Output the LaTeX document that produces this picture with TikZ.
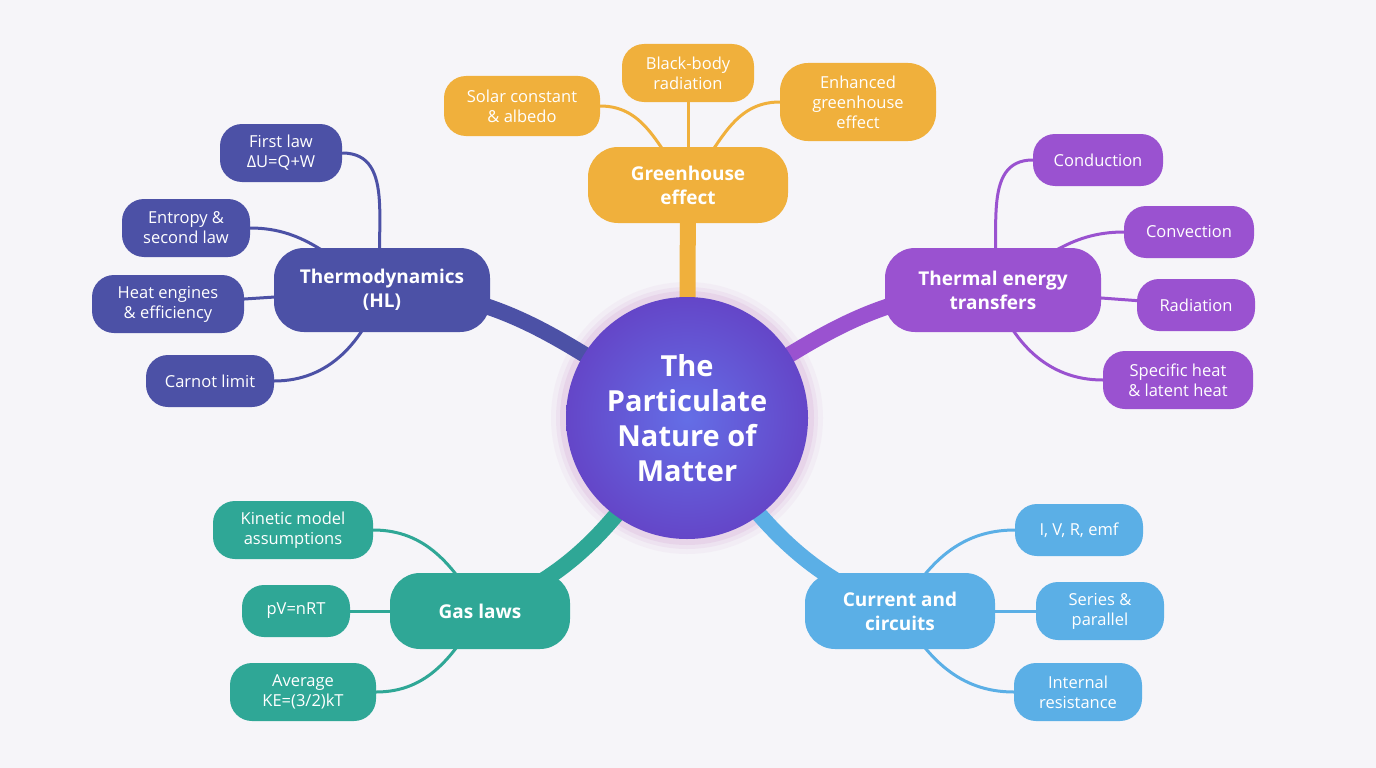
\documentclass[tikz,border=0pt]{standalone}
\usepackage{fontspec}
\setmainfont{Open Sans}
\pgfdeclarelayer{bg}
\pgfsetlayers{bg,main}
\begin{document}
\begin{tikzpicture}[x=1pt,y=-1pt,
 box/.style={rounded corners=22pt,text=white,align=center,font=\fontsize{16.5}{20}\selectfont,inner sep=0pt},
 hub/.style={box,font=\fontsize{19}{24}\selectfont\bfseries,rounded corners=30pt},
 sub/.style={line width=3pt},
 main/.style={line width=16pt}]
\definecolor{bgc}{HTML}{F6F5F9}
\definecolor{org}{HTML}{F0B03C}
\definecolor{ind}{HTML}{4C51A6}
\definecolor{pur}{HTML}{9A52D0}
\definecolor{tea}{HTML}{2FA796}
\definecolor{lbl}{HTML}{5BAFE6}
\begin{pgfonlayer}{bg}
\fill[bgc] (0,0) rectangle (1376,768);
\end{pgfonlayer}
\useasboundingbox (0,0) rectangle (1376,768);
% circle
\begin{pgfonlayer}{bg}
\foreach \r/\o in {136/0.08,131/0.12,127/0.18}{\fill[violet!40,opacity=\o] (687,418) circle (\r);}
\end{pgfonlayer}
\shade[inner color={rgb,255:red,100;green,110;blue,230},outer color={rgb,255:red,100;green,70;blue,200}] (687,418) circle (121);
\node[circle,minimum size=242pt,text=white,align=center,font=\fontsize{29}{35}\selectfont\bfseries] (c) at (687,418) {The\\Particulate\\Nature of\\Matter};
% hubs
\node[hub,fill=org,minimum width=200pt,minimum height=76pt] (g) at (688,185) {Greenhouse\\effect};
\node[hub,fill=ind,minimum width=216pt,minimum height=84pt] (t) at (382,290) {Thermodynamics\\(HL)};
\node[hub,fill=pur,minimum width=216pt,minimum height=84pt] (e) at (993,290) {Thermal energy\\transfers};
\node[hub,fill=tea,minimum width=180pt,minimum height=76pt] (gl) at (480,611) {Gas laws};
\node[hub,fill=lbl,minimum width=190pt,minimum height=76pt] (cc) at (900,611) {Current and\\circuits};
% subs
\node[box,fill=org,minimum width=156pt,minimum height=60pt] (g1) at (522,106) {Solar constant\\\& albedo};
\node[box,fill=org,minimum width=132pt,minimum height=58pt] (g2) at (688,73) {Black-body\\radiation};
\node[box,fill=org,minimum width=156pt,minimum height=78pt,rounded corners=28pt] (g3) at (858,102) {Enhanced\\greenhouse\\effect};
\node[box,fill=ind,minimum width=122pt,minimum height=58pt] (t1) at (281,153) {First law\\ΔU=Q+W};
\node[box,fill=ind,minimum width=128pt,minimum height=58pt] (t2) at (186,228) {Entropy \&\\second law};
\node[box,fill=ind,minimum width=152pt,minimum height=58pt] (t3) at (168,304) {Heat engines\\\& efficiency};
\node[box,fill=ind,minimum width=128pt,minimum height=52pt] (t4) at (210,381) {Carnot limit};
\node[box,fill=pur,minimum width=130pt,minimum height=52pt] (e1) at (1098,160) {Conduction};
\node[box,fill=pur,minimum width=130pt,minimum height=52pt] (e2) at (1189,232) {Convection};
\node[box,fill=pur,minimum width=118pt,minimum height=52pt] (e3) at (1196,305) {Radiation};
\node[box,fill=pur,minimum width=150pt,minimum height=58pt] (e4) at (1178,380) {Specific heat\\\& latent heat};
\node[box,fill=tea,minimum width=160pt,minimum height=58pt] (a1) at (293,530) {Kinetic model\\assumptions};
\node[box,fill=tea,minimum width=108pt,minimum height=52pt] (a2) at (296,611) {pV=nRT};
\node[box,fill=tea,minimum width=146pt,minimum height=58pt] (a3) at (303,692) {Average\\KE=(3/2)kT};
\node[box,fill=lbl,minimum width=128pt,minimum height=52pt] (b1) at (1079,530) {I, V, R, emf};
\node[box,fill=lbl,minimum width=128pt,minimum height=58pt] (b2) at (1100,611) {Series \&\\parallel};
\node[box,fill=lbl,minimum width=128pt,minimum height=58pt] (b3) at (1078,692) {Internal\\resistance};
% connectors
\begin{pgfonlayer}{bg}
\draw[main,org] (g.center) -- (c.center);
\draw[main,ind] (t.center) to[out=0,in=150] (c.center);
\draw[main,pur] (e.center) to[out=180,in=30] (c.center);
\draw[main,tea] (gl.center) to[out=20,in=235] (c.center);
\draw[main,lbl] (cc.center) to[out=160,in=-55] (c.center);
\draw[sub,org] (g1.east) to[out=0,in=130] (g.center);
\draw[sub,org] (g2.center) -- (g.center);
\draw[sub,org] (g3.west) to[out=180,in=50] (g.center);
\draw[sub,ind] (t1.east) to[out=0,in=100] (t.center);
\draw[sub,ind] (t2.east) to[out=0,in=150] (t.center);
\draw[sub,ind] (t3.center) -- (t.center);
\draw[sub,ind] (t4.east) to[out=0,in=-110] (t.center);
\draw[sub,pur] (e1.west) to[out=180,in=80] (e.center);
\draw[sub,pur] (e2.west) to[out=180,in=30] (e.center);
\draw[sub,pur] (e3.center) -- (e.center);
\draw[sub,pur] (e4.west) to[out=180,in=-70] (e.center);
\draw[sub,tea] (a1.east) to[out=0,in=120] (gl.center);
\draw[sub,tea] (a2.center) -- (gl.center);
\draw[sub,tea] (a3.east) to[out=0,in=-120] (gl.center);
\draw[sub,lbl] (b1.west) to[out=180,in=60] (cc.center);
\draw[sub,lbl] (b2.center) -- (cc.center);
\draw[sub,lbl] (b3.west) to[out=180,in=-60] (cc.center);
\end{pgfonlayer}
\end{tikzpicture}
\end{document}
